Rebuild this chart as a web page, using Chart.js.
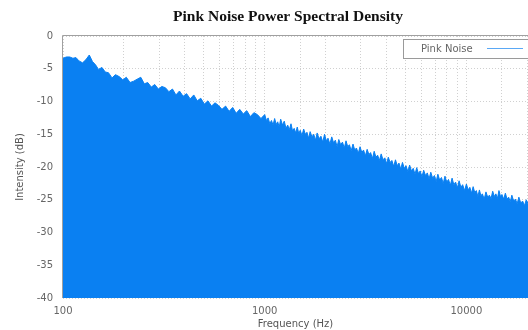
<!DOCTYPE html>
<html lang="en">
<head>
    <meta charset="UTF-8">
    <title>Pink Noise Power Spectral Density</title>
    <script src="https://cdn.jsdelivr.net/npm/chart.js"></script>
    <style>
        body { margin: 0; background: #fff; }
        #wrap { width: 528px; height: 330px; }
    </style>
</head>
<body>
    <div id="wrap"><canvas id="psd-chart" width="528" height="330"></canvas></div>

    <script>
        // frequencies (Hz) and level (dB)
        const freqs = [
            100, 104, 108, 112, 116, 120, 125, 130, 135, 140, 145, 150, 156, 162, 168, 175, 182, 190, 198, 206,
            215, 224, 233, 243, 253, 263, 274, 285, 297, 309, 322, 335, 349, 363, 378, 394, 410, 427, 445, 463,
            482, 502, 523, 545, 567, 590, 614, 640, 666, 694, 722, 752, 783, 815, 849, 884, 920, 958,
            1000, 1020, 1040, 1060, 1080, 1100, 1120, 1140, 1160, 1180, 1200, 1225, 1250, 1275, 1300, 1325, 1350, 1375, 1400, 1425,
            1450, 1475, 1500, 1530, 1560, 1590, 1620, 1650, 1680, 1715, 1750, 1785, 1820, 1860, 1900, 1940, 1980, 2020, 2060, 2105,
            2150, 2195, 2240, 2285, 2330, 2380, 2430, 2480, 2530, 2580, 2630, 2685, 2740, 2795, 2850, 2910, 2970, 3030, 3090, 3155,
            3220, 3285, 3350, 3420, 3490, 3560, 3630, 3705, 3780, 3860, 3940, 4020, 4100, 4185, 4270, 4360, 4450, 4540, 4630, 4725,
            4820, 4920, 5020, 5125, 5230, 5340, 5450, 5560, 5670, 5785, 5900, 6020, 6140, 6270, 6400, 6530, 6660, 6800, 6940, 7080,
            7220, 7370, 7520, 7675, 7830, 7990, 8150, 8320, 8490, 8665, 8840, 9020, 9200, 9390, 9580, 9790,
            10000, 10200, 10400, 10600, 10800, 11000, 11200, 11400, 11600, 11800, 12000, 12250, 12500, 12750, 13000, 13250, 13500, 13750, 14000, 14250,
            14500, 14750, 15000, 15300, 15600, 15900, 16200, 16500, 16800, 17150, 17500, 17850, 18200, 18600, 19000, 19400, 19800, 20200
        ];
        const levels = [
            -3.4, -3.2, -3.2, -3.4, -3.3, -3.8, -4.1, -3.6, -2.9, -3.9, -4.4, -5.1, -4.8, -5.5, -5.6, -6.4, -5.9, -6.2, -6.7, -6.3,
            -7.1, -6.9, -6.6, -6.3, -7.3, -7.1, -7.8, -7.4, -8.1, -7.7, -7.9, -8.5, -8.1, -9.0, -8.4, -9.2, -8.8, -9.6, -9.0, -9.9,
            -9.5, -10.4, -9.9, -10.7, -10.2, -10.6, -11.2, -10.7, -11.5, -10.9, -11.8, -11.2, -11.9, -11.4, -12.3, -11.7, -12.0, -12.6,
            -12.0, -12.9, -12.5, -13.4, -12.9, -13.6, -12.6, -13.5, -13.1, -13.9, -12.7, -13.6, -13.0, -14.1, -13.6, -14.3, -13.4, -14.5, -14.1, -14.8,
            -13.9, -14.9, -14.4, -15.2, -14.2, -15.0, -14.7, -15.6, -14.6, -15.4, -15.0, -15.9, -14.8, -15.7, -15.3, -16.2, -15.0, -16.0, -15.6, -16.5,
            -15.4, -16.3, -15.9, -16.9, -15.8, -16.6, -16.2, -17.1, -16.0, -16.9, -16.6, -17.5, -16.5, -17.4, -17.1, -17.9, -16.9, -17.8, -17.4, -18.3,
            -17.3, -18.1, -17.8, -18.7, -17.6, -18.5, -18.2, -19.0, -18.0, -18.9, -18.6, -19.5, -18.5, -19.3, -19.0, -19.9, -18.9, -19.8, -19.4, -20.3,
            -19.3, -20.2, -19.8, -20.7, -19.7, -20.6, -20.2, -21.1, -20.1, -21.0, -20.6, -21.5, -20.5, -21.3, -20.9, -21.8, -20.8, -21.7, -21.3, -22.2,
            -21.1, -22.0, -21.6, -22.5, -21.4, -22.3, -21.9, -22.8, -21.7, -22.7, -22.3, -23.2, -22.1, -23.1, -22.7, -23.6,
            -22.6, -23.5, -23.1, -24.0, -23.0, -23.9, -23.6, -24.5, -23.5, -24.4, -24.1, -24.9, -23.8, -24.6, -24.3, -24.8, -23.7, -24.5, -24.1, -24.8,
            -23.6, -24.5, -24.2, -24.9, -24.0, -24.9, -24.6, -25.3, -24.3, -25.2, -24.9, -25.6, -24.6, -25.5, -25.2, -25.9, -25.0, -25.6
        ];
        const yTicks = [0, -5, -10, -15, -20, -25, -30, -35, -40];
        const xLabels = [100, 1000, 10000];

        const blue = '#0a80f2';
        const axisFont = { family: 'DejaVu Sans', size: 10 };

        // title, plot frame and the legend box that sits inside the plot
        const decor = {
            id: 'decor',
            afterDraw(chart) {
                const ctx = chart.ctx;
                const a = chart.chartArea;
                ctx.save();
                ctx.strokeStyle = '#a0a0a0';
                ctx.lineWidth = 1;
                ctx.beginPath();
                ctx.moveTo(a.left - 0.5, a.bottom);
                ctx.lineTo(a.left - 0.5, a.top - 0.5);
                ctx.lineTo(a.right, a.top - 0.5);
                ctx.stroke();

                // legend
                ctx.fillStyle = '#fff';
                ctx.fillRect(403, 39, 126, 19);
                ctx.strokeStyle = '#9a9a9a';
                ctx.strokeRect(403.5, 39.5, 130, 19);
                ctx.fillStyle = '#666';
                ctx.font = '10px "DejaVu Sans"';
                ctx.textBaseline = 'middle';
                ctx.fillText('Pink Noise', 421, 49);
                ctx.strokeStyle = '#5aa8f5';
                ctx.beginPath();
                ctx.moveTo(487, 48.5);
                ctx.lineTo(523, 48.5);
                ctx.stroke();

                // title
                ctx.fillStyle = '#111';
                ctx.font = 'bold 15.5px "Liberation Serif"';
                ctx.textAlign = 'center';
                ctx.fillText('Pink Noise Power Spectral Density', 288, 17);
                ctx.restore();
            }
        };

        const chart = new Chart(document.getElementById('psd-chart'), {
            type: 'line',
            data: {
                datasets: [{
                    label: 'Pink Noise',
                    data: freqs.map((f, i) => ({ x: f, y: levels[i] })),
                    borderColor: blue,
                    backgroundColor: blue,
                    borderWidth: 1,
                    pointRadius: 0,
                    fill: 'start',
                    tension: 0
                }]
            },
            options: {
                responsive: false,
                animation: false,
                layout: { padding: { top: 36, right: 0, bottom: 0, left: 0 } },
                plugins: {
                    legend: { display: false },
                    title: { display: false },
                    tooltip: { enabled: false }
                },
                scales: {
                    x: {
                        type: 'logarithmic',
                        min: 100,
                        max: 20200,
                        afterFit(scale) {
                            scale.height = 32;
                            scale.paddingRight = 0;
                        },
                        grid: { color: '#d0d0d0', drawTicks: false },
                        border: { display: false, dash: [1, 2] },
                        ticks: {
                            autoSkip: false,
                            maxRotation: 0,
                            padding: 7,
                            color: '#666',
                            font: axisFont,
                            callback: function(value) {
                                return xLabels.includes(value) ? String(value) : '';
                            }
                        },
                        title: {
                            display: true,
                            text: 'Frequency (Hz)',
                            color: '#555',
                            font: axisFont,
                            padding: { top: 1, bottom: 0 }
                        }
                    },
                    y: {
                        min: -40,
                        max: 0,
                        afterFit(scale) { scale.width = 63; },
                        afterBuildTicks(scale) {
                            scale.ticks = yTicks.map(v => ({ value: v }));
                        },
                        grid: { color: '#d0d0d0', drawTicks: false },
                        border: { display: false, dash: [1, 2] },
                        ticks: {
                            padding: 10,
                            color: '#666',
                            font: axisFont
                        },
                        title: {
                            display: true,
                            text: 'Intensity (dB)',
                            color: '#555',
                            font: axisFont,
                            padding: { top: 14, bottom: 0 }
                        }
                    }
                }
            },
            plugins: [decor]
        });
    </script>
</body>
</html>
